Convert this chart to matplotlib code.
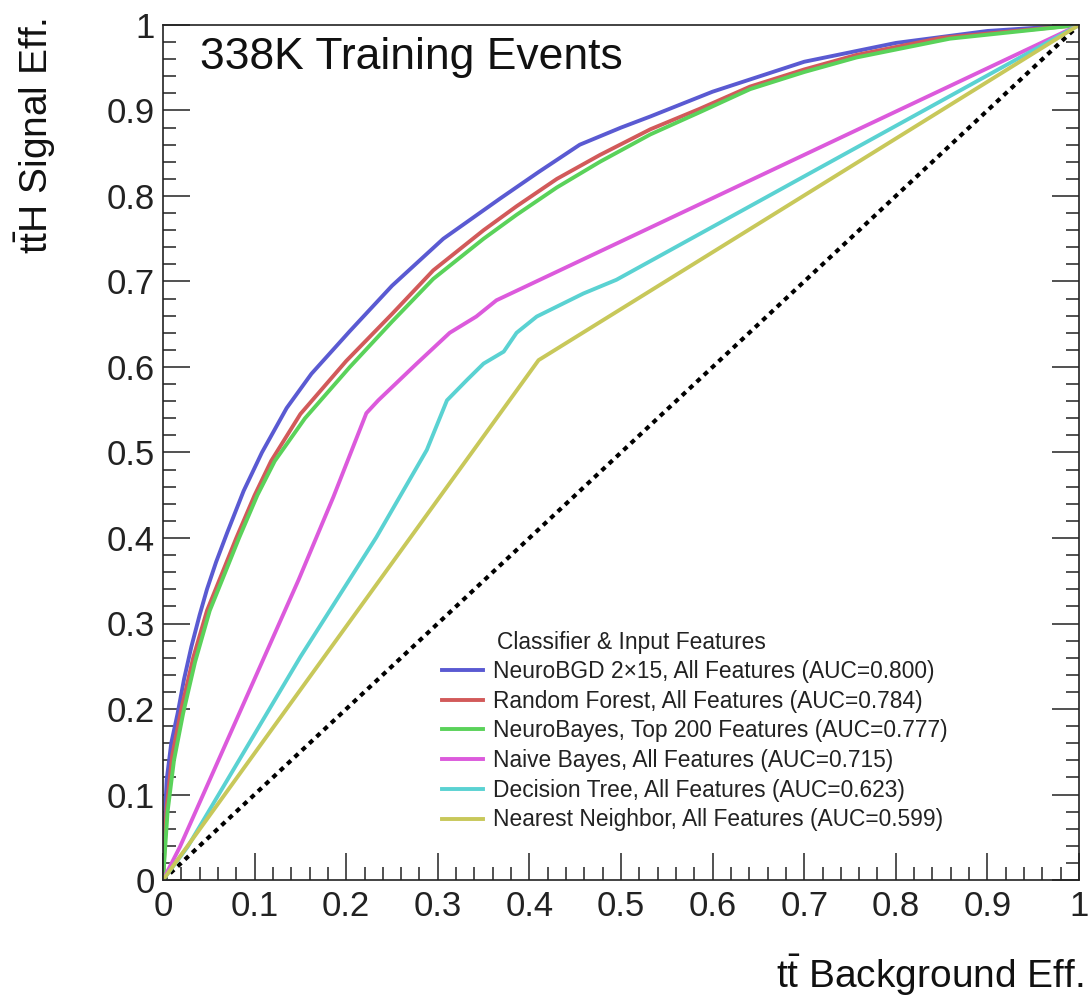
import matplotlib
matplotlib.use("Agg")
import matplotlib.pyplot as plt
from matplotlib.ticker import MultipleLocator, FuncFormatter

plt.rcParams['font.family'] = ['Liberation Sans', 'DejaVu Sans']
plt.rcParams['mathtext.fontset'] = 'custom'
plt.rcParams['mathtext.rm'] = 'Liberation Sans'
plt.rcParams['mathtext.it'] = 'Liberation Sans:italic'

# ---- data ----
labels = [
    "NeuroBGD 2\u00d715, All Features (AUC=0.800)",
    "Random Forest, All Features (AUC=0.784)",
    "NeuroBayes, Top 200 Features (AUC=0.777)",
    "Naive Bayes, All Features (AUC=0.715)",
    "Decision Tree, All Features (AUC=0.623)",
    "Nearest Neighbor, All Features (AUC=0.599)",
]
colors = ["#5a5ad2", "#d25a5a", "#5ad25a", "#dc5adc", "#5ad2d2", "#c8c85a"]

nbgd_x = [0, 0.002, 0.004, 0.009, 0.016, 0.023, 0.031, 0.04, 0.048, 0.058, 0.07, 0.088,
          0.108, 0.135, 0.162, 0.204, 0.25, 0.306, 0.368, 0.41, 0.455, 0.5, 0.532, 0.6,
          0.7, 0.8, 0.9, 1.0]
nbgd_y = [0, 0.07, 0.117, 0.16, 0.195, 0.235, 0.273, 0.31, 0.34, 0.372, 0.406, 0.455,
          0.5, 0.552, 0.592, 0.642, 0.695, 0.75, 0.797, 0.828, 0.86, 0.88, 0.893, 0.922,
          0.957, 0.979, 0.993, 1.0]

rf_x = [0, 0.004, 0.01, 0.02, 0.033, 0.048, 0.065, 0.08, 0.1, 0.118, 0.15, 0.2, 0.25,
        0.295, 0.35, 0.386, 0.43, 0.477, 0.532, 0.586, 0.641, 0.7, 0.757, 0.85, 1.0]
rf_y = [0, 0.085, 0.145, 0.2, 0.26, 0.315, 0.36, 0.4, 0.45, 0.49, 0.545, 0.607, 0.662,
        0.713, 0.76, 0.788, 0.82, 0.848, 0.878, 0.902, 0.928, 0.948, 0.965, 0.985, 1.0]

nb200_x = [0, 0.005, 0.012, 0.022, 0.035, 0.051, 0.068, 0.083, 0.103, 0.122, 0.155, 0.204,
           0.25, 0.295, 0.35, 0.386, 0.43, 0.477, 0.532, 0.586, 0.641, 0.7, 0.757, 0.859, 1.0]
nb200_y = [0, 0.08, 0.14, 0.195, 0.255, 0.315, 0.36, 0.4, 0.45, 0.49, 0.54, 0.6,
           0.653, 0.703, 0.75, 0.778, 0.81, 0.84, 0.872, 0.898, 0.925, 0.945, 0.962, 0.984, 1.0]

naive_x = [0, 0.0186, 0.148, 0.186, 0.222, 0.235, 0.277, 0.313, 0.342, 0.364, 1.0]
naive_y = [0, 0.039, 0.351, 0.448, 0.546, 0.561, 0.604, 0.640, 0.659, 0.678, 1.0]

dtree_x = [0, 0.027, 0.150, 0.233, 0.288, 0.310, 0.332, 0.350, 0.372, 0.386, 0.408, 0.459,
           0.495, 1.0]
dtree_y = [0, 0.039, 0.261, 0.401, 0.503, 0.561, 0.585, 0.604, 0.618, 0.640, 0.659, 0.686,
           0.702, 1.0]

knn_x = [0, 0.41, 1.0]
knn_y = [0, 0.608, 1.0]

series_x = [nbgd_x, rf_x, nb200_x, naive_x, dtree_x, knn_x]
series_y = [nbgd_y, rf_y, nb200_y, naive_y, dtree_y, knn_y]

diag = [0, 1]

title_text = "338K Training Events"
xlabel = r"$\mathrm{t\bar{t}}$ Background Eff."
ylabel = r"$\mathrm{t\bar{t}H}$ Signal Eff."
legend_title = "Classifier & Input Features"

# ---- figure ----
W, H = 1089, 1001
fig = plt.figure(figsize=(W / 100, H / 100), dpi=100)
L, R, T, B = 163, 1079, 25, 880
ax = fig.add_axes([L / W, 1 - B / H, (R - L) / W, (B - T) / H])

ax.plot(diag, diag, color="black", lw=3, linestyle=(0, (1.2, 1.2)), zorder=1)
handles = []
for xs, ys, c, lab in zip(series_x, series_y, colors, labels):
    h, = ax.plot(xs, ys, color=c, lw=2.8, label=lab, solid_joinstyle="round", zorder=2)
    handles.append(h)

ax.set_xlim(0, 1)
ax.set_ylim(0, 1)

def fmt(v, pos):
    if abs(v) < 1e-9:
        return "0"
    if abs(v - 1) < 1e-9:
        return "1"
    return f"{v:.1f}"

for axis in (ax.xaxis, ax.yaxis):
    axis.set_major_locator(MultipleLocator(0.1))
    axis.set_minor_locator(MultipleLocator(0.02))
    axis.set_major_formatter(FuncFormatter(fmt))

ax.tick_params(which="both", direction="in", width=1.1, colors="#222222",
               left=True, right=True, top=False, bottom=True, labelsize=25)
ax.tick_params(which="major", length=19.5)
ax.tick_params(which="minor", length=9.5)
ax.tick_params(axis="x", pad=7)
ax.tick_params(axis="y", pad=6)
for s in ax.spines.values():
    s.set_linewidth(1.2)
    s.set_color("#222222")

fig.text(200 / W, 1 - 57 / H, title_text, fontsize=32,
         ha="left", va="center", color="#111111")

fig.text(1083 / W, 1 - 975 / H, xlabel, fontsize=28, ha="right", va="center", color="#111111")
fig.text(35 / W, 1 - 18 / H, ylabel, fontsize=28, ha="center", va="top",
         rotation=90, color="#111111")

fig.text(497 / W, 1 - 643 / H, legend_title, fontsize=16.4, ha="left", va="center",
         color="#222222")
leg = ax.legend(handles=handles, labels=labels, loc="upper left",
                bbox_to_anchor=(442 / W, 1 - 660 / H), bbox_transform=fig.transFigure,
                frameon=False, fontsize=16.4, handlelength=1.8,
                handletextpad=0.44, labelspacing=0.294, borderpad=0, borderaxespad=0)
for t in leg.get_texts():
    t.set_color("#222222")

fig.savefig("out.png", dpi=100)
